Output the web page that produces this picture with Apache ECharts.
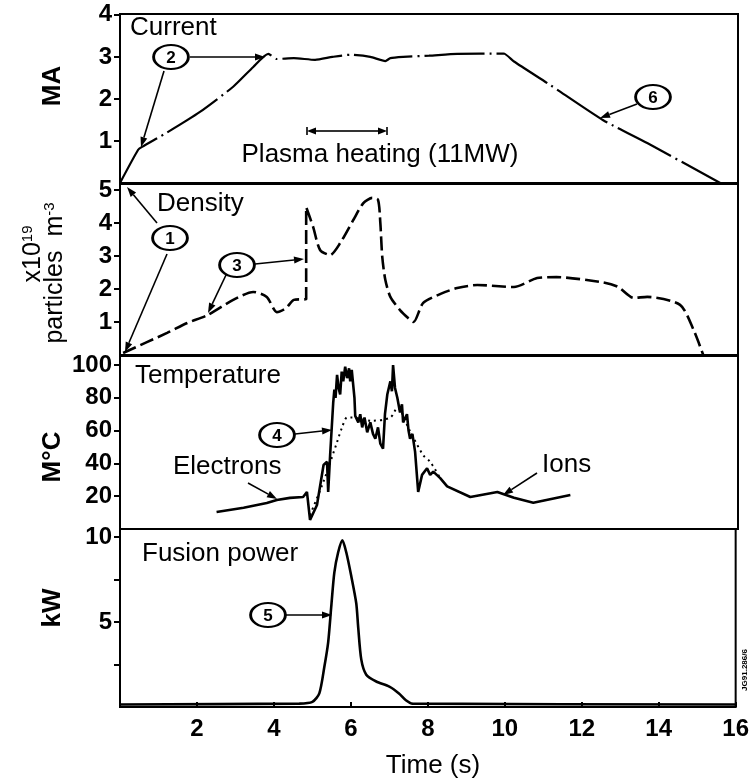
<!DOCTYPE html>
<html>
<head>
<meta charset="utf-8">
<script src="https://cdn.jsdelivr.net/npm/echarts@6/dist/echarts.min.js"></script>
<style>
html,body{margin:0;padding:0;background:#fff;}
#chart{width:752px;height:781px;}
</style>
</head>
<body>
<div id="chart"></div>
<script>
// ---- data (time in s) ----
const currentData = [[0,0],[0.47,0.79],[0.57,0.86],[1.2,1.19],[2.07,1.69],[2.93,2.29],[3.45,2.76],[3.84,3.07],[4.06,2.95],[4.5,2.97],[5.05,2.93],[5.5,3.0],[5.96,3.05],[6.48,3.0],[6.87,2.9],[7.0,2.97],[7.33,3.0],[8.0,3.03],[8.73,3.07],[9.93,3.08],[10.2,2.89],[11.14,2.33],[12.5,1.5],[13.65,0.95],[15.54,0]];
const densityData = [[0.08,0.06],[1.22,0.67],[1.74,0.97],[2.25,1.2],[2.93,1.67],[3.45,1.91],[3.8,1.76],[4.06,1.3],[4.3,1.42],[4.5,1.67],[4.82,1.7],[4.82,4.48],[5.0,3.88],[5.18,3.18],[5.44,3.03],[5.7,3.39],[6.04,4.09],[6.3,4.6],[6.53,4.76],[6.68,4.7],[6.74,4.0],[6.79,2.97],[6.87,2.27],[7.0,1.76],[7.25,1.36],[7.46,1.12],[7.6,1.0],[7.85,1.58],[8.3,1.85],[8.73,2.03],[9.25,2.12],[10.2,2.06],[10.8,2.33],[11.3,2.36],[12.5,2.2],[12.9,2.06],[13.3,1.73],[13.65,1.76],[14.5,1.52],[14.85,0.76],[15.1,0]];
const electronsData = [[2.5,10.4],[3.2,13],[3.8,15.9],[4.06,17.7],[4.4,19],[4.74,19.5],[4.84,22.6],[4.92,5.5],[5.1,14.6],[5.27,39],[5.36,41],[5.39,22.6],[5.44,45],[5.52,77],[5.55,85],[5.58,80],[5.62,94],[5.66,86],[5.7,82],[5.74,96],[5.78,90],[5.83,99],[5.88,92],[5.93,98],[5.96,90],[6.0,97],[6.04,98],[6.07,80],[6.09,69],[6.17,65],[6.22,70],[6.27,62],[6.33,68],[6.4,59],[6.48,65],[6.55,58],[6.61,55],[6.68,62],[6.74,52],[6.81,49],[6.86,70],[6.92,82],[7.0,90],[7.04,84],[7.07,100],[7.12,86],[7.18,80],[7.25,71],[7.3,76],[7.33,65],[7.43,70],[7.47,60],[7.51,55],[7.57,58],[7.64,47],[7.72,22.6],[7.82,33],[7.95,37],[8.03,33],[8.11,35],[8.29,31],[8.47,26],[9.07,19.5],[9.77,22.6],[10.2,19],[10.7,16],[11.66,20.7]];
const ionsData = [[4.92,8.5],[5.27,29],[5.62,53],[5.75,62],[5.88,68],[6.01,68],[6.5,66],[7.0,68],[7.18,74],[7.5,60],[7.85,45],[8.03,41],[8.29,31]];
const fusionData = [[0,0.15],[4.66,0.2],[5.0,0.3],[5.18,0.8],[5.31,2.35],[5.41,3.8],[5.49,5.9],[5.57,7.9],[5.67,9.1],[5.78,9.8],[5.88,9.1],[6.01,7.7],[6.14,6.1],[6.19,4.7],[6.27,2.8],[6.4,1.9],[6.66,1.5],[7.0,1.2],[7.25,0.8],[7.43,0.4],[7.6,0.2],[16,0.15]];

const timeTicks = [2,4,6,8,10,12,14,16];
const currentTicks = [1,2,3,4];
const densityTicks = [1,2,3,4,5];
const tempTicks = [20,40,60,80,100];
const powerTicks = [2.5,5,7.5,10];
const powerLabels = [5,10];

// ---- layout ----
const FONT = '"Liberation Sans", Arial, Helvetica, sans-serif';
const grids = [
  {left:120, width:618, top:14, height:169},
  {left:120, width:618, top:184, height:171},
  {left:120, width:618, top:356, height:173},
  {left:120, width:618, top:529, height:178}
];
const yMax = [4.02, 5.18, 105.5, 10.47];
const tickSets = [currentTicks, densityTicks, tempTicks, powerTicks];
const labelSets = [currentTicks, densityTicks, tempTicks, powerLabels];

const chart = echarts.init(document.getElementById('chart'), null, {renderer:'canvas'});

function arrow(x1,y1,x2,y2,head,w){
  head = head||10; w = w||3.5;
  const dx=x2-x1, dy=y2-y1, L=Math.sqrt(dx*dx+dy*dy), ux=dx/L, uy=dy/L;
  const bx=x2-ux*head, by=y2-uy*head;
  return [
    {type:'line', shape:{x1:x1,y1:y1,x2:bx,y2:by}, style:{stroke:'#000', lineWidth:1.6}},
    {type:'polygon', shape:{points:[[x2,y2],[bx-uy*w,by+ux*w],[bx+uy*w,by-ux*w]]}, style:{fill:'#000'}}
  ];
}
function bubble(txt,x,y){
  return [
    {type:'circle', x:x, y:y, scaleX:1.45, scaleY:1, z:10, shape:{cx:0, cy:0, r:12},
     style:{fill:'#fff', stroke:'#000', lineWidth:2, strokeNoScale:true}},
    {type:'text', x:x, y:y+1, z:11, style:{text:txt, align:'center', verticalAlign:'middle',
     fontSize:17, fontWeight:'bold', fontFamily:FONT, fill:'#000'}}
  ];
}
function label(txt,x,y,opts){
  return {type:'text', x:x, y:y, style:Object.assign({text:txt, align:'left', verticalAlign:'middle',
    fontSize:26, fontFamily:FONT, fill:'#000'}, opts||{})};
}
function vlabel(txt,x,y,rich){
  const st = {text:txt, align:'center', verticalAlign:'middle', fontSize:26, fontWeight:'bold', fontFamily:FONT, fill:'#000'};
  if (rich) { st.rich = rich; st.fontWeight = 'normal'; }
  return {type:'text', x:x, y:y, rotation:Math.PI/2, style:st};
}
const supRich = {n:{fontSize:25, fontFamily:FONT, verticalAlign:'bottom'}, s:{fontSize:15, fontFamily:FONT, verticalAlign:'top'}};

const graphics = [].concat(
  label('Current',130,28),
  label('Density',157,204),
  label('Temperature',135,376),
  label('Fusion power',142,554),
  label('Plasma heating (11MW)',380,155,{align:'center'}),
  label('Electrons',173,467),
  label('Ions',542,465),
  label('Time (s)',433,766,{align:'center'}),
  vlabel('MA',53,86),
  vlabel('M°C',53,457),
  vlabel('kW',53,608),
  vlabel('{n|x10}{s|19}',33,254,supRich),
  vlabel('{n|particles  m}{s|-3}',55,273,supRich),
  {type:'text', x:745, y:670, rotation:Math.PI/2, style:{text:'JG91.286/6', align:'center', verticalAlign:'middle', fontSize:8, fontWeight:'bold', fontFamily:FONT, fill:'#000'}},
  // plasma heating double arrow
  arrow(347,131,307,131,9,3.5), arrow(347,131,387,131,9,3.5),
  {type:'line', shape:{x1:307,y1:127,x2:307,y2:135}, style:{stroke:'#000', lineWidth:1.6}},
  {type:'line', shape:{x1:387,y1:127,x2:387,y2:135}, style:{stroke:'#000', lineWidth:1.6}},
  // annotation arrows
  arrow(190,57,265,57), arrow(164,71,141,147),
  arrow(637,104,600,118),
  arrow(157,223,127,187), arrow(167,254,125,352),
  arrow(255,264,304,259), arrow(226,275,208,313),
  arrow(295,434,332,430),
  arrow(248,483,277,499),
  arrow(537,473,503,495),
  arrow(286,615,332,615),
  bubble('2',171,57), bubble('6',653,97), bubble('1',170,238), bubble('3',237,265),
  bubble('4',277,435), bubble('5',268,615)
);

const option = {
  animation:false,
  backgroundColor:'#fff',
  grid: grids.map(g => Object.assign({show:true, borderColor:'#000', borderWidth:2, backgroundColor:'transparent', containLabel:false}, g)),
  xAxis: grids.map((g,i) => ({
    type:'value', gridIndex:i, min:0, max:16, interval:2,
    axisLine:{show:false}, splitLine:{show:false},
    axisTick:{show:i===3, inside:true, length:5, lineStyle:{color:'#000', width:2}, customValues:timeTicks},
    axisLabel:{show:i===3, margin:10, color:'#000', fontSize:24, fontWeight:'bold', fontFamily:FONT, customValues:timeTicks}
  })),
  yAxis: grids.map((g,i) => ({
    type:'value', gridIndex:i, min:0, max:yMax[i],
    axisLine:{show:false}, splitLine:{show:false},
    axisTick:{show:true, inside:false, length:6, lineStyle:{color:'#000', width:2}, customValues:tickSets[i]},
    axisLabel:{show:true, margin:8, color:'#000', fontSize:24, fontWeight:'bold', fontFamily:FONT, customValues:labelSets[i]}
  })),
  series: [
    {type:'line', xAxisIndex:0, yAxisIndex:0, data:currentData, showSymbol:false, smooth:0.2,
     lineStyle:{color:'#000', width:2.2, type:[60,5,2,5]}},
    {type:'line', xAxisIndex:1, yAxisIndex:1, data:densityData, showSymbol:false, smooth:0.25,
     lineStyle:{color:'#000', width:2.6, type:[14,5]}},
    {type:'line', xAxisIndex:2, yAxisIndex:2, data:electronsData, showSymbol:false,
     lineStyle:{color:'#000', width:2.6}},
    {type:'line', xAxisIndex:2, yAxisIndex:2, data:ionsData, showSymbol:false, smooth:0.3,
     lineStyle:{color:'#000', width:2, type:[2,4]}},
    {type:'line', xAxisIndex:3, yAxisIndex:3, data:fusionData, showSymbol:false, smooth:0.25,
     lineStyle:{color:'#000', width:2.6}}
  ],
  graphic: graphics
};
chart.setOption(option);
</script>
</body>
</html>
